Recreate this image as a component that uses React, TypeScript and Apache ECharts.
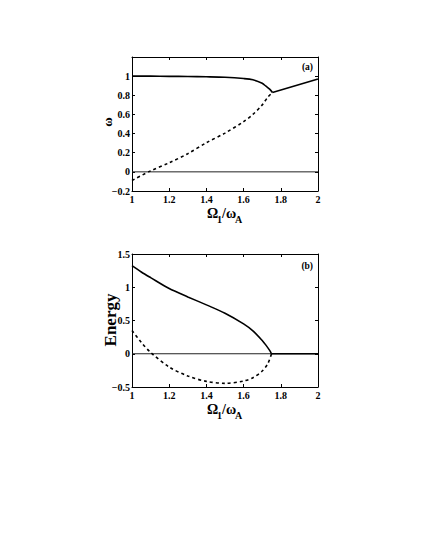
import React, { useEffect, useRef } from "react";
import * as echarts from "echarts";

// Panel (a): frequency branches
const aUpperX = [1.0, 1.1, 1.2, 1.3, 1.4, 1.5, 1.6, 1.65, 1.7, 1.72, 1.74, 1.755];
const aUpperY = [1.0, 1.0, 0.998, 0.996, 0.993, 0.988, 0.975, 0.962, 0.925, 0.895, 0.865, 0.83];
const aBranchX = [1.755, 2.0];
const aBranchY = [0.83, 0.97];
const aLowerX = [1.0, 1.1, 1.2, 1.3, 1.4, 1.5, 1.6, 1.65, 1.7, 1.73, 1.755];
const aLowerY = [-0.09, 0.01, 0.095, 0.19, 0.305, 0.405, 0.525, 0.6, 0.7, 0.78, 0.83];

// Panel (b): energy
const bUpperX = [1.0, 1.05, 1.1, 1.2, 1.3, 1.4, 1.5, 1.6, 1.65, 1.7, 1.72, 1.74, 1.75];
const bUpperY = [1.325, 1.23, 1.145, 0.98, 0.855, 0.735, 0.61, 0.45, 0.345, 0.2, 0.13, 0.05, 0.0];
const bFlatX = [1.75, 2.0];
const bFlatY = [0.0, 0.0];
const bLowerX = [1.0, 1.05, 1.1, 1.2, 1.3, 1.4, 1.5, 1.6, 1.65, 1.7, 1.73, 1.75];
const bLowerY = [0.35, 0.17, 0.02, -0.2, -0.335, -0.415, -0.445, -0.41, -0.36, -0.26, -0.15, 0.0];

const zeroX = [1.0, 2.0];
const zeroY = [0.0, 0.0];

const FONT = "'Liberation Serif', 'Times New Roman', serif";

const pair = (xs: number[], ys: number[]) => xs.map((x, i) => [x, ys[i]]);

const fmt = (v: number) => {
  const s = String(+v.toFixed(2));
  return s.replace("-", "\u2212");
};

export default function App() {
  const ref = useRef<HTMLDivElement>(null);
  useEffect(() => {
    if (!ref.current) return;
    const chart = echarts.init(ref.current, undefined, { renderer: "svg" });

    const grids = [
      { left: 132, top: 57, width: 186, height: 134 },
      { left: 132, top: 254, width: 186, height: 133 },
    ];
    const yRanges = [
      { min: -0.2, max: 1.2, interval: 0.2, hideMax: true },
      { min: -0.5, max: 1.5, interval: 0.5, hideMax: false },
    ];

    const xAxis: any[] = [];
    const yAxis: any[] = [];
    grids.forEach((_, g) => {
      xAxis.push({
        type: "value",
        gridIndex: g,
        min: 1,
        max: 2,
        interval: 0.2,
        position: "bottom",
        axisLine: { show: true, onZero: false, lineStyle: { color: "#000", width: 1 } },
        axisTick: { show: true, inside: true, length: 3, lineStyle: { color: "#000" } },
        splitLine: { show: false },
        axisLabel: {
          show: true,
          margin: 3,
          color: "#000",
          fontFamily: FONT,
          fontWeight: "bold",
          fontSize: 10,
          formatter: (v: number) => fmt(v),
        },
      });
      xAxis.push({
        type: "value",
        gridIndex: g,
        min: 1,
        max: 2,
        interval: 0.2,
        position: "top",
        axisLine: { show: true, onZero: false, lineStyle: { color: "#000", width: 1 } },
        axisTick: { show: true, inside: true, length: 3, lineStyle: { color: "#000" } },
        splitLine: { show: false },
        axisLabel: { show: false },
      });
      const yr = yRanges[g];
      yAxis.push({
        type: "value",
        gridIndex: g,
        min: yr.min,
        max: yr.max,
        interval: yr.interval,
        position: "left",
        axisLine: { show: true, onZero: false, lineStyle: { color: "#000", width: 1 } },
        axisTick: { show: true, inside: true, length: 3, lineStyle: { color: "#000" } },
        splitLine: { show: false },
        axisLabel: {
          show: true,
          margin: 2,
          color: "#000",
          fontFamily: FONT,
          fontWeight: "bold",
          fontSize: 10,
          formatter: (v: number) =>
            yr.hideMax && Math.abs(v - yr.max) < 1e-9 ? "" : fmt(v),
        },
      });
      yAxis.push({
        type: "value",
        gridIndex: g,
        min: yr.min,
        max: yr.max,
        interval: yr.interval,
        position: "right",
        axisLine: { show: true, onZero: false, lineStyle: { color: "#000", width: 1 } },
        axisTick: { show: true, inside: true, length: 3, lineStyle: { color: "#000" } },
        splitLine: { show: false },
        axisLabel: { show: false },
      });
    });

    const line = (
      g: number,
      data: number[][],
      opts: { dashed?: boolean; width?: number; smooth?: number | boolean; color?: string }
    ) => ({
      type: "line",
      xAxisIndex: g * 2,
      yAxisIndex: g * 2,
      data,
      showSymbol: false,
      symbol: "none",
      smooth: opts.smooth ?? false,
      lineStyle: {
        color: opts.color ?? "#000",
        width: opts.width ?? 1.6,
        type: opts.dashed ? [3, 3] : "solid",
      },
      silent: true,
      z: 3,
    });

    const series = [
      line(0, pair(zeroX, zeroY), { width: 1, color: "#222" }),
      line(0, pair(aUpperX, aUpperY), { smooth: 0.3 }),
      line(0, pair(aBranchX, aBranchY), {}),
      line(0, pair(aLowerX, aLowerY), { dashed: true, smooth: 0.3 }),
      line(1, pair(zeroX, zeroY), { width: 1, color: "#222" }),
      line(1, pair(bUpperX, bUpperY), { smooth: 0.3 }),
      line(1, pair(bFlatX, bFlatY), {}),
      line(1, pair(bLowerX, bLowerY), { dashed: true, smooth: 0.3 }),
    ];

    const txt = (
      text: string,
      x: number,
      y: number,
      size: number,
      opts: { rotation?: number; align?: string; vAlign?: string } = {}
    ) => ({
      type: "text",
      x,
      y,
      rotation: opts.rotation ?? 0,
      style: {
        text,
        fill: "#000",
        fontFamily: FONT,
        fontWeight: "bold",
        fontSize: size,
        align: opts.align ?? "left",
        verticalAlign: opts.vAlign ?? "middle",
      },
      silent: true,
    });

    const xName = (yBase: number) => [
      txt("\u03A9", 207, yBase, 14),
      txt("1", 217, yBase + 6, 10),
      txt("/\u03C9", 222, yBase, 14),
      txt("A", 235, yBase + 6, 10),
    ];

    const graphic = [
      txt("(a)", 313, 67, 9.5, { align: "right" }),
      txt("(b)", 313, 266, 9.5, { align: "right" }),
      txt("\u03C9", 107, 122, 13, { rotation: Math.PI / 2, align: "center" }),
      txt("Energy", 110, 320, 17, { rotation: Math.PI / 2, align: "center" }),
      ...xName(213),
      ...xName(409),
    ];

    chart.setOption({
      animation: false,
      backgroundColor: "#fff",
      grid: grids.map((g) => ({ ...g, containLabel: false })),
      xAxis,
      yAxis,
      series,
      graphic,
    });
    return () => chart.dispose();
  }, []);

  return (
    <div
      ref={ref}
      style={{ position: "fixed", left: 0, top: 0, width: 425, height: 550, background: "#fff" }}
    />
  );
}
